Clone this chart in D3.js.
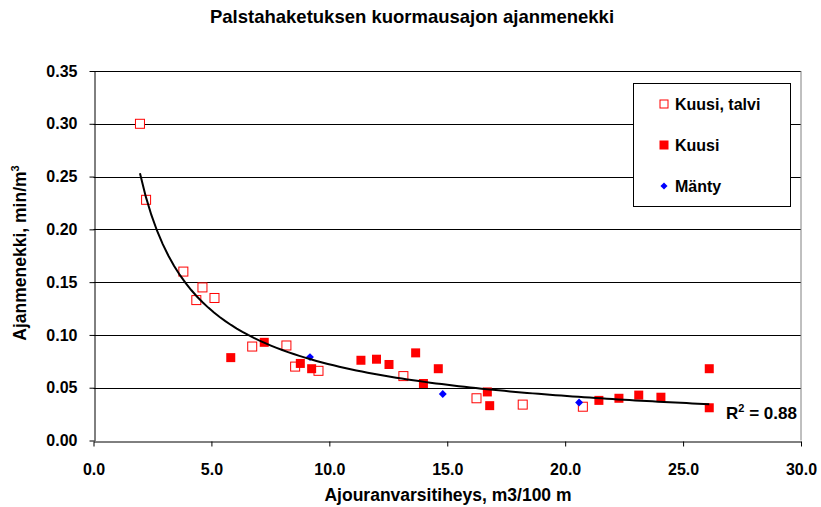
<!DOCTYPE html>
<html>
<head>
<meta charset="utf-8">
<script src="https://cdn.jsdelivr.net/npm/d3@7"></script>
<style>
  body { margin: 0; background: #fff; }
  svg text { font-family: Arial, "Liberation Sans", sans-serif; font-weight: bold; fill: #000; }
</style>
</head>
<body>
<svg id="chart"></svg>
<script>
// Kuusi, talvi (open squares)
const talviX = [1.97, 2.23, 3.81, 4.62, 4.36, 5.13, 6.73, 8.18, 8.55, 9.54, 13.14, 16.24, 18.2, 20.75];
const talviY = [0.300, 0.228, 0.160, 0.145, 0.133, 0.135, 0.089, 0.090, 0.070, 0.066, 0.061, 0.040, 0.034, 0.032];
// Kuusi (filled squares)
const kuusiX = [5.82, 7.24, 8.77, 9.25, 11.34, 12.0, 12.53, 13.66, 13.99, 14.62, 16.7, 16.8, 21.43, 22.28, 23.12, 24.06, 26.11, 26.11];
const kuusiY = [0.0785, 0.093, 0.073, 0.068, 0.076, 0.077, 0.072, 0.083, 0.054, 0.068, 0.046, 0.033, 0.038, 0.040, 0.043, 0.041, 0.068, 0.031];
// Mänty (blue diamonds)
const mantyX = [9.18, 14.81, 20.59];
const mantyY = [0.079, 0.044, 0.036];

const xTicks = [0, 5, 10, 15, 20, 25, 30];
const yTicks = [0, 0.05, 0.10, 0.15, 0.20, 0.25, 0.30, 0.35];
const rSquared = '0.88';

const width = 821, height = 507;
const plot = { left: 93.5, right: 801, top: 71, bottom: 440.5 };

const svg = d3.select('#chart')
  .attr('width', width)
  .attr('height', height);

const x = d3.scaleLinear().domain([0, 30]).range([plot.left, plot.right]);
const y = d3.scaleLinear().domain([0, 0.35]).range([plot.bottom, plot.top]);

// gridlines
svg.append('g')
  .selectAll('line')
  .data(yTicks.filter(d => d > 0))
  .enter().append('line')
  .attr('x1', plot.left).attr('x2', plot.right)
  .attr('y1', d => Math.round(y(d)) + .5).attr('y2', d => Math.round(y(d)) + .5)
  .attr('stroke', '#000').attr('stroke-width', 1);

// plot border (right side, gray)
svg.append('line')
  .attr('x1', plot.right).attr('x2', plot.right)
  .attr('y1', plot.top).attr('y2', plot.bottom)
  .attr('stroke', '#808080');

// axes
const xAxis = svg.append('g')
  .attr('transform', `translate(0,${Math.round(plot.bottom) + .5})`)
  .call(d3.axisBottom(x).tickValues(xTicks).tickFormat(d3.format('.1f')).tickSize(5).tickSizeOuter(0));
const yAxis = svg.append('g')
  .attr('transform', `translate(${Math.round(plot.left) + .5},0)`)
  .call(d3.axisLeft(y).tickValues(yTicks).tickFormat(d3.format('.2f')).tickSize(5).tickSizeOuter(0));

[xAxis, yAxis].forEach(g => {
  g.selectAll('path, line').attr('stroke', '#000');
  g.selectAll('text')
    .style('font-size', '16px')
    .style('font-family', 'Arial, "Liberation Sans", sans-serif')
    .style('font-weight', 'bold')
    .attr('fill', '#000');
});
xAxis.selectAll('text').attr('y', 22).attr('dy', '0.71em');
yAxis.selectAll('text').attr('x', -17);

// points
const pts = (xs, ys) => xs.map((d, i) => [d, ys[i]]);
const sq = 9;

svg.append('g').selectAll('rect')
  .data(pts(talviX, talviY))
  .enter().append('rect')
  .attr('x', d => x(d[0]) - sq / 2).attr('y', d => y(d[1]) - sq / 2)
  .attr('width', sq).attr('height', sq)
  .attr('fill', '#fff').attr('stroke', '#ff0000').attr('stroke-width', 1);

svg.append('g').selectAll('rect')
  .data(pts(kuusiX, kuusiY))
  .enter().append('rect')
  .attr('x', d => x(d[0]) - sq / 2).attr('y', d => y(d[1]) - sq / 2)
  .attr('width', sq).attr('height', sq)
  .attr('fill', '#ff0000');

const diamond = d3.symbol().type(d3.symbolDiamond2).size(40);
svg.append('g').selectAll('path')
  .data(pts(mantyX, mantyY))
  .enter().append('path')
  .attr('transform', d => `translate(${x(d[0])},${y(d[1])})`)
  .attr('d', diamond)
  .attr('fill', '#0000ff');

// power trendline fitted on all points (log-log least squares)
const all = pts(talviX, talviY).concat(pts(kuusiX, kuusiY), pts(mantyX, mantyY));
const lx = all.map(d => Math.log(d[0])), ly = all.map(d => Math.log(d[1]));
const mx = d3.mean(lx), my = d3.mean(ly);
const b = d3.sum(lx, (v, i) => (v - mx) * (ly[i] - my)) / d3.sum(lx, v => (v - mx) ** 2);
const a = Math.exp(my - b * mx);
const xMin = d3.min(all, d => d[0]), xMax = d3.max(all, d => d[0]);
const trend = d3.range(0, 101).map(i => {
  const xv = xMin + (xMax - xMin) * i / 100;
  return [xv, a * Math.pow(xv, b)];
});
svg.append('path')
  .datum(trend)
  .attr('d', d3.line().x(d => x(d[0])).y(d => y(d[1])))
  .attr('fill', 'none').attr('stroke', '#000').attr('stroke-width', 2);

// R² label
const r2 = svg.append('text')
  .attr('x', 726).attr('y', 419)
  .style('font-size', '17px');
r2.append('tspan').text('R');
r2.append('tspan').attr('dy', -7).style('font-size', '11px').text('2');
r2.append('tspan').attr('dy', 7).text(' = ' + rSquared);

// legend
const legend = svg.append('g');
legend.append('rect')
  .attr('x', 633.5).attr('y', 83.5).attr('width', 157).attr('height', 123)
  .attr('fill', '#fff').attr('stroke', '#000');
const legendItems = [
  { label: 'Kuusi, talvi', y: 104, kind: 'open' },
  { label: 'Kuusi', y: 145, kind: 'filled' },
  { label: 'Mänty', y: 186, kind: 'diamond' }
];
legendItems.forEach(it => {
  if (it.kind === 'diamond') {
    legend.append('path')
      .attr('transform', `translate(664,${it.y})`)
      .attr('d', d3.symbol().type(d3.symbolDiamond2).size(32))
      .attr('fill', '#0000ff');
  } else {
    legend.append('rect')
      .attr('x', 660).attr('y', it.y - 4).attr('width', 8).attr('height', 8)
      .attr('fill', it.kind === 'open' ? '#fff' : '#ff0000')
      .attr('stroke', '#ff0000');
  }
  legend.append('text')
    .attr('x', 675).attr('y', it.y + 6)
    .style('font-size', '16px')
    .text(it.label);
});

// title and axis labels
svg.append('text')
  .attr('x', 412).attr('y', 23)
  .attr('text-anchor', 'middle')
  .style('font-size', '18.5px')
  .text('Palstahaketuksen kuormausajon ajanmenekki');

svg.append('text')
  .attr('x', 448).attr('y', 501)
  .attr('text-anchor', 'middle')
  .style('font-size', '17.5px')
  .text('Ajouranvarsitiheys, m3/100 m');

const yl = svg.append('text')
  .attr('transform', 'translate(26,253) rotate(-90)')
  .attr('text-anchor', 'middle')
  .style('font-size', '17.5px');
yl.append('tspan').text('Ajanmenekki, min/m');
yl.append('tspan').attr('dy', -7).style('font-size', '11px').text('3');
</script>
</body>
</html>
